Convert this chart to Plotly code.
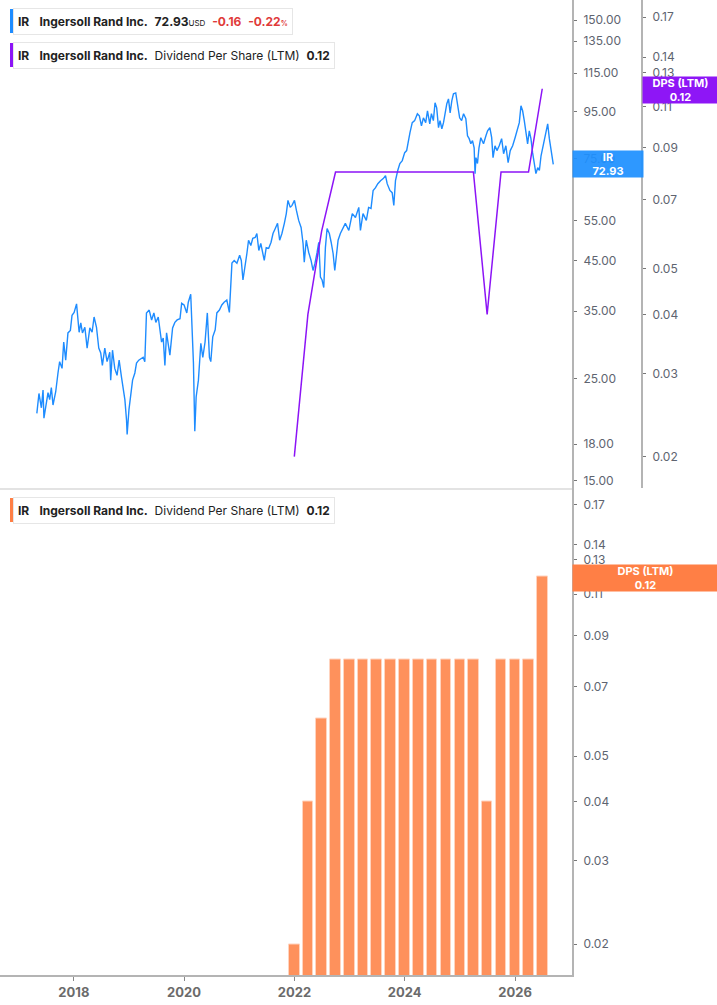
import plotly.graph_objects as go

# Ingersoll Rand daily close, sampled off the chart
price_dates = [
    "2017-05-01", "2017-05-15", "2017-05-31", "2017-06-11", "2017-06-17", "2017-07-03", "2017-07-14",
    "2017-07-25", "2017-08-05", "2017-08-16", "2017-09-03", "2017-09-18", "2017-09-29", "2017-10-15",
    "2017-10-26", "2017-11-08", "2017-11-23", "2017-12-09", "2017-12-20", "2018-01-03", "2018-01-19",
    "2018-02-05", "2018-02-16", "2018-02-27", "2018-03-15", "2018-03-30", "2018-04-17", "2018-05-02",
    "2018-05-15", "2018-05-31", "2018-06-15", "2018-06-28", "2018-07-09", "2018-07-25", "2018-08-09",
    "2018-08-27", "2018-09-02", "2018-09-14", "2018-09-29", "2018-10-14", "2018-10-28", "2018-11-13",
    "2018-11-23", "2018-12-05", "2018-12-16", "2018-12-20", "2019-01-01", "2019-01-14", "2019-01-25",
    "2019-02-09", "2019-02-20", "2019-03-07", "2019-03-25", "2019-04-05", "2019-04-16", "2019-04-27",
    "2019-05-15", "2019-05-31", "2019-06-15", "2019-06-28", "2019-07-14", "2019-07-25", "2019-08-05",
    "2019-08-16", "2019-08-27", "2019-09-07", "2019-09-18", "2019-09-29", "2019-10-17", "2019-11-01",
    "2019-11-16", "2019-12-05", "2019-12-16", "2020-01-01", "2020-01-19", "2020-01-29", "2020-02-14",
    "2020-02-23", "2020-03-03", "2020-03-12", "2020-03-21", "2020-04-05", "2020-04-21", "2020-05-04",
    "2020-05-19", "2020-06-03", "2020-06-17", "2020-06-26", "2020-07-09", "2020-07-25", "2020-08-05",
    "2020-08-22", "2020-09-07", "2020-09-22", "2020-10-10", "2020-10-27", "2020-11-01", "2020-11-13",
    "2020-11-28", "2020-12-16", "2021-01-03", "2021-01-14", "2021-01-25", "2021-02-05", "2021-02-20",
    "2021-03-03", "2021-03-18", "2021-03-31", "2021-04-16", "2021-04-27", "2021-05-10", "2021-05-23",
    "2021-06-06", "2021-06-15", "2021-06-28", "2021-07-14", "2021-07-30", "2021-08-12", "2021-08-27",
    "2021-09-11", "2021-09-25", "2021-10-10", "2021-10-26", "2021-11-08", "2021-11-19", "2021-12-04",
    "2021-12-16", "2022-01-01", "2022-01-14", "2022-01-29", "2022-02-14", "2022-02-27", "2022-03-07",
    "2022-03-20", "2022-04-05", "2022-04-21", "2022-05-04", "2022-05-17", "2022-05-31", "2022-06-11",
    "2022-06-22", "2022-07-03", "2022-07-14", "2022-07-25", "2022-08-05", "2022-08-20", "2022-09-01",
    "2022-09-14", "2022-09-25", "2022-10-06", "2022-10-17", "2022-11-01", "2022-12-04", "2022-12-27",
    "2023-01-19", "2023-02-09", "2023-03-03", "2023-03-14", "2023-03-31", "2023-04-22", "2023-05-07",
    "2023-05-23", "2023-06-06", "2023-06-22", "2023-07-07", "2023-07-25", "2023-08-12", "2023-08-27",
    "2023-09-07", "2023-09-25", "2023-10-10", "2023-10-21", "2023-11-01", "2023-11-16", "2023-11-30",
    "2023-12-16", "2024-01-01", "2024-01-14", "2024-01-22", "2024-02-05", "2024-02-20", "2024-03-07",
    "2024-03-25", "2024-04-07", "2024-04-21", "2024-05-04", "2024-05-19", "2024-05-31", "2024-06-15",
    "2024-06-26", "2024-07-09", "2024-07-20", "2024-07-31", "2024-08-12", "2024-08-22", "2024-09-03",
    "2024-09-14", "2024-09-25", "2024-10-06", "2024-10-17", "2024-10-28", "2024-11-08", "2024-11-19",
    "2024-12-04", "2024-12-16", "2024-12-30", "2025-01-12", "2025-01-25", "2025-02-09", "2025-02-20",
    "2025-03-03", "2025-03-14", "2025-03-25", "2025-04-05", "2025-04-11", "2025-04-17", "2025-04-27",
    "2025-05-07", "2025-05-19", "2025-06-06", "2025-06-22", "2025-07-03", "2025-07-18", "2025-07-30",
    "2025-08-08", "2025-08-21", "2025-09-03", "2025-09-18", "2025-10-04", "2025-10-17", "2025-11-01",
    "2025-11-16", "2025-11-30", "2025-12-16", "2026-01-01", "2026-01-14", "2026-01-29", "2026-02-09",
    "2026-02-20", "2026-03-03", "2026-03-14", "2026-03-25", "2026-04-05", "2026-04-16", "2026-04-27",
    "2026-05-07", "2026-05-19", "2026-05-31", "2026-06-11", "2026-06-22", "2026-07-03", "2026-07-14",
    "2026-07-25", "2026-08-05", "2026-08-16", "2026-08-27", "2026-09-11",
]
price_values = [
    21.0, 23.2, 21.6, 23.6, 20.5, 22.1, 23.3,
    22.5, 23.9, 21.9, 23.4, 25.7, 27.2, 26.3,
    30.0, 27.4, 31.4, 31.8, 34.3, 34.8, 36.3,
    31.5, 33.0, 31.4, 32.3, 29.1, 32.2, 31.5,
    34.0, 32.3, 29.1, 28.4, 26.7, 29.1, 27.2,
    28.5, 24.8, 28.8, 26.3, 25.4, 27.4, 25.1,
    24.0, 22.5, 20.3, 18.9, 21.4, 23.2, 24.8,
    25.7, 27.0, 27.4, 27.7, 27.8, 27.2, 34.7,
    35.2, 33.5, 34.7, 33.1, 34.0, 32.2, 30.0,
    30.6, 26.7, 31.4, 29.3, 28.1, 32.2, 33.1,
    33.5, 33.7, 36.4, 36.1, 34.7, 36.6, 38.1,
    33.0, 27.0, 19.2, 22.8, 24.8, 29.8, 27.8,
    30.0, 34.7, 27.8, 27.2, 30.8, 31.9, 34.7,
    35.2, 36.1, 36.6, 37.0, 34.8, 38.3, 44.5,
    45.1, 44.5, 46.3, 45.1, 40.9, 42.9, 46.7,
    49.9, 48.6, 50.4, 50.6, 51.6, 47.4, 49.1,
    47.0, 45.1, 48.1, 47.9, 49.4, 51.6, 52.9,
    54.3, 49.9, 51.6, 54.3, 57.0, 60.9, 58.8,
    59.4, 60.9, 57.9, 55.1, 53.2, 49.1, 44.7,
    49.9, 47.0, 45.1, 42.9, 44.5, 47.0, 49.4,
    41.5, 40.9, 39.4, 48.1, 52.9, 51.6, 49.4,
    46.7, 42.9, 45.8, 49.9, 51.6, 54.3, 52.4,
    57.0, 55.9, 58.8, 52.4, 57.0, 55.1, 58.8,
    58.5, 64.0, 64.9, 66.2, 67.2, 67.9, 68.9,
    66.2, 64.0, 63.3, 59.4, 67.2, 70.7, 73.2,
    74.3, 77.3, 78.1, 81.2, 85.4, 89.8, 90.7,
    93.9, 92.9, 88.4, 92.0, 89.8, 95.3, 89.3,
    93.9, 90.7, 99.2, 96.7, 87.6, 90.7, 87.1,
    89.8, 95.3, 98.7, 101.1, 94.3, 100.1, 103.7,
    104.2, 98.7, 92.0, 90.7, 93.9, 91.6, 84.1,
    82.9, 80.8, 82.1, 79.2, 69.6, 75.4, 73.2,
    79.2, 83.3, 80.8, 84.1, 86.2, 87.6, 83.3,
    75.4, 80.0, 78.1, 80.0, 82.9, 76.9, 80.0,
    73.5, 78.1, 80.0, 83.3, 86.2, 89.8, 97.7,
    95.3, 90.7, 85.0, 80.8, 86.2, 82.9, 77.3,
    74.3, 69.6, 71.7, 70.7, 76.1, 79.2, 82.1,
    85.0, 89.3, 82.9, 79.2, 72.93,
]

# Dividend per share (LTM), quarterly
dps_dates = [
    "2021-12-31", "2022-03-31", "2022-06-30", "2022-09-30", "2022-12-31",
    "2023-03-31", "2023-06-30", "2023-09-30", "2023-12-31",
    "2024-03-31", "2024-06-30", "2024-09-30", "2024-12-31",
    "2025-03-31", "2025-06-30", "2025-09-30", "2025-12-31",
    "2026-03-31", "2026-06-30",
]
dps_values = [
    0.02, 0.04, 0.06, 0.08, 0.08,
    0.08, 0.08, 0.08, 0.08,
    0.08, 0.08, 0.08, 0.08,
    0.08, 0.04, 0.08, 0.08,
    0.08, 0.12,
]

price_ticks = [150, 135, 115, 95, 75, 55, 45, 35, 25, 18, 15]
dps_ticks = [0.17, 0.14, 0.13, 0.11, 0.09, 0.07, 0.05, 0.04, 0.03, 0.02]
year_ticks = ["2018-01-01", "2020-01-01", "2022-01-01", "2024-01-01", "2026-01-01"]
year_labels = ["2018", "2020", "2022", "2024", "2026"]

last_price = 72.93
price_change = "-0.16"
price_change_pct = "-0.22"
last_dps = 0.12

W, H = 717, 1005
PLOT_H = 975  # plot area height (bottom margin 30)
FONT = "Inter, Roboto, sans-serif"
BLUE = "#1E8CFF"
PURPLE = "#8C14F6"
ORANGE = "#FF7F45"
AXIS = "#B4B4B4"
TICK_FONT = dict(family=FONT, size=12, color="#5E6470")


def px(x):
    return x / W


def py(y):
    return 1 - y / PLOT_H


fig = go.Figure()

fig.add_trace(go.Scatter(x=price_dates, y=price_values, mode="lines",
                         line=dict(color=BLUE, width=1.4), xaxis="x", yaxis="y"))
fig.add_trace(go.Scatter(x=dps_dates, y=dps_values, mode="lines",
                         line=dict(color=PURPLE, width=1.5), xaxis="x", yaxis="y3"))
fig.add_trace(go.Bar(x=dps_dates, y=dps_values, xaxis="x2", yaxis="y2",
                     width=70 * 24 * 3600 * 1000,
                     marker=dict(color="#FE915C", line=dict(color="#FFD3BE", width=1))))

x_end = 572 / W

fig.update_layout(
    width=W, height=H,
    margin=dict(l=0, r=0, t=0, b=30),
    paper_bgcolor="white", plot_bgcolor="white",
    showlegend=False,
    bargap=0,
    xaxis=dict(domain=[0, x_end], anchor="y", type="date",
               range=["2016-08-30", "2027-01-13"],
               showticklabels=False, showgrid=False, zeroline=False,
               showline=True, linecolor="#E3E3E3", linewidth=1.5),
    xaxis2=dict(domain=[0, x_end], anchor="y2", matches="x", type="date",
                tickvals=year_ticks, ticktext=["<b>%s</b>" % t for t in year_labels],
                tickfont=dict(family=FONT, size=13, color="#6B6B6B"),
                ticks="outside", ticklen=4, tickcolor="#888",
                showgrid=False, zeroline=False,
                showline=True, linecolor=AXIS, linewidth=2),
    yaxis=dict(domain=[0.5, 1], anchor="x", side="right", type="log",
               range=[1.1614, 2.2195],
               tickvals=price_ticks, ticktext=["%.2f" % v for v in price_ticks],
               tickfont=TICK_FONT, ticks="outside", ticklen=3, tickcolor="#777",
               ticklabelstandoff=4,
               showgrid=False, zeroline=False,
               showline=True, linecolor=AXIS, linewidth=2),
    yaxis3=dict(overlaying="y", anchor="free", position=642 / W, side="right", type="log",
                range=[-1.7642, -0.7331],
                tickvals=dps_ticks, ticktext=["%.2f" % v for v in dps_ticks],
                tickfont=TICK_FONT, ticks="outside", ticklen=3, tickcolor="#777",
                ticklabelstandoff=4,
                showgrid=False, zeroline=False,
                showline=True, linecolor=AXIS, linewidth=2),
    yaxis2=dict(domain=[0, 0.5], anchor="x2", side="right", type="log",
                range=[-1.7642, -0.7331],
                tickvals=dps_ticks, ticktext=["%.2f" % v for v in dps_ticks],
                tickfont=TICK_FONT, ticks="outside", ticklen=3, tickcolor="#777",
                ticklabelstandoff=4,
                showgrid=False, zeroline=False,
                showline=True, linecolor=AXIS, linewidth=2),
)

NB = "\u00a0"
RED = "#E03A3A"
name = "<b>IR</b>" + NB * 3 + "<b>Ingersoll Rand Inc.</b>" + NB * 2
legend_rows = [
    (8, BLUE,
     name + "<b>%.2f</b><span style='font-size:8px'>USD</span>" % last_price + NB * 2
     + "<span style='color:%s'><b>%s</b>%s<b>%s</b><span style='font-size:7px'><b>%%</b></span></span>"
     % (RED, price_change, NB * 2, price_change_pct)),
    (42, PURPLE, name + "Dividend Per Share (LTM)" + NB * 2 + "<b>%.2f</b>" % last_dps),
    (497, ORANGE, name + "Dividend Per Share (LTM)" + NB * 2 + "<b>%.2f</b>" % last_dps),
]

shapes = []
annotations = []
for top, color, text in legend_rows:
    annotations.append(dict(
        xref="paper", yref="paper", x=px(13), y=py(top), xanchor="left", yanchor="top",
        text=text, showarrow=False, align="left", height=17,
        font=dict(family=FONT, size=12, color="#222"),
        bgcolor="white", bordercolor="#E6E6E6", borderwidth=1, borderpad=4,
    ))
    shapes.append(dict(type="rect", xref="paper", yref="paper",
                       x0=px(10), x1=px(13), y0=py(top + 1), y1=py(top + 25),
                       fillcolor=color, line=dict(width=0)))

# value tags on the right axes
tags = [
    (572, 70, 164, "rgba(30,144,255,0.93)", "IR<br>%.2f" % last_price),
    (642, 75, 90, "#8E16F6", "DPS (LTM)<br>%.2f" % last_dps),
    (572, 145, 577.5, ORANGE, "DPS (LTM)<br>%.2f" % last_dps),
]
for left, w, mid, color, text in tags:
    annotations.append(dict(
        xref="paper", yref="paper", x=px(left), y=py(mid), xanchor="left", yanchor="middle",
        text="<b>%s</b>" % text, showarrow=False, align="center",
        width=w - 2, height=24, borderpad=1,
        font=dict(family=FONT, size=11, color="white"),
        bgcolor=color,
    ))

fig.update_layout(shapes=shapes, annotations=annotations)

# the page's default body margin would push the figure 8px in
fig.write_html("out.html", config={"displayModeBar": False},
               post_script="document.body.style.margin='0px';")
